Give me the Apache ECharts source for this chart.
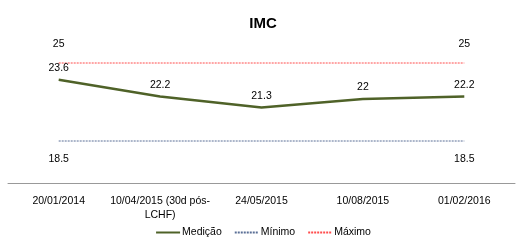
<!DOCTYPE html>
<html><head><meta charset="utf-8">
<script src="https://cdn.jsdelivr.net/npm/echarts@6/dist/echarts.min.js"></script>
<style>html,body{margin:0;padding:0;background:#fff}#c{width:526px;height:243px}</style>
</head><body><div id="c"></div>
<script>
const categories = ["20/01/2014", "10/04/2015 (30d pós-LCHF)", "24/05/2015", "10/08/2015", "01/02/2016"];
const medicao = [23.6, 22.2, 21.3, 22, 22.2];
const minimo = [18.5, 18.5, 18.5, 18.5, 18.5];
const maximo = [25, 25, 25, 25, 25];

const font = "'Liberation Sans', Arial, sans-serif";
const endsOnly = p => (p.dataIndex === 0 || p.dataIndex === categories.length - 1) ? String(p.value) : '';
const chart = echarts.init(document.getElementById('c'));
chart.setOption({
  animation: false,
  title: { text: 'IMC', left: 'center', top: 11, textStyle: { fontFamily: font, fontSize: 15, fontWeight: 'bold', color: '#000' } },
  grid: { left: 8, right: 11, top: 51, height: 132 },
  legend: {
    bottom: 0, itemGap: 12, itemWidth: 24, itemHeight: 8,
    itemStyle: { opacity: 0 },
    textStyle: { fontFamily: font, fontSize: 10.5, color: '#000', padding: [0, 0, 0, -3] },
    data: ['Medição', 'Mínimo', 'Máximo']
  },
  xAxis: {
    type: 'category', data: categories, boundaryGap: true,
    axisLine: { lineStyle: { color: '#999', width: 1 } },
    axisTick: { show: false },
    axisLabel: { fontFamily: font, fontSize: 10.5, color: '#000', margin: 11, interval: 0, lineHeight: 14,
      formatter: v => v.replace('-', '-\n') }
  },
  yAxis: { type: 'value', min: 15, max: 26, show: false, splitLine: { show: false } },
  series: [
    { name: 'Medição', type: 'line', data: medicao, symbol: 'circle', symbolSize: 0, showSymbol: true,
      lineStyle: { color: '#4f6228', width: 2.5 }, itemStyle: { color: '#4f6228' },
      label: { show: true, position: 'top', distance: 6, fontFamily: font, fontSize: 10.5, color: '#000' } },
    { name: 'Mínimo', type: 'line', data: minimo, symbol: 'circle', symbolSize: 0, showSymbol: true,
      lineStyle: { color: '#5a6f96', width: 1, type: [2, 1] }, itemStyle: { color: '#5a6f96' },
      label: { show: true, position: 'bottom', distance: 13, fontFamily: font, fontSize: 10.5, color: '#000', formatter: endsOnly } },
    { name: 'Máximo', type: 'line', data: maximo, symbol: 'circle', symbolSize: 0, showSymbol: true,
      lineStyle: { color: '#ff4d4d', width: 1, type: [2, 1] }, itemStyle: { color: '#ff4d4d' },
      label: { show: true, position: 'top', distance: 13, fontFamily: font, fontSize: 10.5, color: '#000', formatter: endsOnly } }
  ]
});
</script></body></html>
